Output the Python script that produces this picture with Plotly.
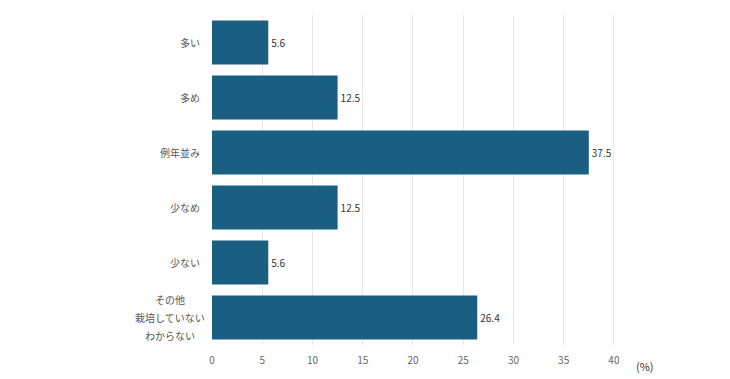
import plotly.graph_objects as go

categories = ["多い", "多め", "例年並み", "少なめ", "少ない", "その他\n栽培していない\nわからない"]
values = [5.6, 12.5, 37.5, 12.5, 5.6, 26.4]
value_labels = ["5.6", "12.5", "37.5", "12.5", "5.6", "26.4"]
x_ticks = [0, 5, 10, 15, 20, 25, 30, 35, 40]

FONT = "Noto Sans CJK JP"
L, R, T, B = 204, 104, 7, 42
PW = 730 - L - R

fig = go.Figure(go.Bar(
    x=values, y=categories, orientation="h",
    marker=dict(color="#1a5f82", line=dict(width=0)),
    text=value_labels, textposition="outside",
    textfont=dict(size=10, color="#333333", family=FONT),
    cliponaxis=False,
))

annotations = []
for cat in categories:
    lines = cat.split("\n")
    n = len(lines)
    for i, line in enumerate(lines):
        if n == 1:
            annotations.append(dict(
                text=line, xref="paper", yref="y", x=0, y=cat, xshift=-10,
                xanchor="right", yanchor="middle", showarrow=False,
                font=dict(size=10, color="#555555", family=FONT)))
        else:
            annotations.append(dict(
                text=line, xref="paper", yref="y", x=-42 / PW, y=cat,
                yshift=(-(i - (n - 1) / 2)) * 18,
                xanchor="center", yanchor="middle", showarrow=False,
                font=dict(size=10, color="#555555", family=FONT)))

annotations.append(dict(
    text="(%)", xref="paper", yref="paper", x=1.0, y=-0.064,
    xanchor="left", yanchor="middle", showarrow=False,
    font=dict(size=11, color="#333333", family=FONT),
))

fig.update_layout(
    width=730, height=379,
    margin=dict(l=L, r=R, t=T, b=B, autoexpand=False),
    plot_bgcolor="white", paper_bgcolor="white",
    bargap=0.2,
    showlegend=False,
    font=dict(family=FONT),
    xaxis=dict(
        range=[0, 42], tickvals=x_ticks, showgrid=True, gridcolor="#e6e6e6",
        gridwidth=1, zeroline=False, showline=False, automargin=False,
        tickfont=dict(size=10, color="#666666"), ticks="",
        ticklabelstandoff=8,
    ),
    yaxis=dict(
        autorange="reversed", showgrid=False, zeroline=False, showline=False,
        showticklabels=False, automargin=False,
    ),
    annotations=annotations,
)

fig.write_html("out.html")
